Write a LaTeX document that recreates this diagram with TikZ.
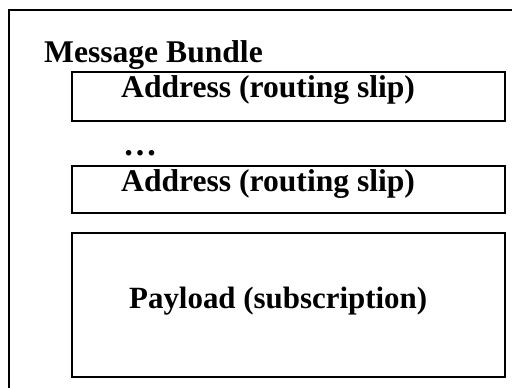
\documentclass[tikz,border=0pt]{standalone}
\usepackage{fontspec}
\setmainfont{Liberation Serif}
\begin{document}
\begin{tikzpicture}[x=1bp,y=-1bp,
  slot/.style={draw, line width=2bp, rectangle, minimum width=433bp, inner sep=0pt},
  label/.style={anchor=base west, inner sep=0pt, font=\fontsize{31.6bp}{36bp}\selectfont\bfseries}]
  \useasboundingbox (0,0) rectangle (512,387);
  \clip (0,0) rectangle (512,387);
  % enclosing bundle frame (runs off the right and bottom edges)
  \draw[line width=2.5bp] (530,10) -- (9,10) -- (9,400);
  \node[label] (title) at (44,62) {Message Bundle};
  % address slips
  \node[slot, minimum height=49bp] (addr1) at (288.5,96.5) {};
  \node[label] (addr1txt) at (121,97) {Address (routing slip)};
  \node[label, font=\fontsize{34bp}{36bp}\selectfont\bfseries] (dots) at (123,155) {\char"2026};
  \node[slot, minimum height=47bp] (addr2) at (288.5,189.5) {};
  \node[label] (addr2txt) at (121,191) {Address (routing slip)};
  % payload
  \node[slot, minimum height=144bp] (payload) at (288.5,305) {};
  \node[label, font=\fontsize{30.9bp}{36bp}\selectfont\bfseries] (payloadtxt) at (129,308) {Payload (subscription)};
\end{tikzpicture}
\end{document}
